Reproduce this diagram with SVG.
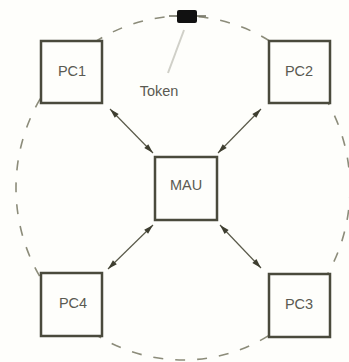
<svg xmlns="http://www.w3.org/2000/svg" width="349" height="362" viewBox="0 0 349 362">
<style>
.box{fill:#fefefb;stroke:#4a4a3c;stroke-width:2.5}
.lbl{font-family:"Liberation Sans",Arial,sans-serif;font-size:14.5px;fill:#5a5a52;text-anchor:middle}
.ring{fill:none;stroke:#8c8c7a;stroke-width:1.6;stroke-dasharray:10 12}
.link{stroke:#5a5a4a;stroke-width:1.2;marker-start:url(#ah);marker-end:url(#ah)}
</style>
<defs>
<marker id="ah" viewBox="0 0 12 10" refX="12" refY="5" markerWidth="11" markerHeight="8" markerUnits="userSpaceOnUse" orient="auto-start-reverse">
<path d="M0,1.5 L12,5 L0,8.5 Z" fill="#3e3e30"/>
</marker>
</defs>
<rect width="349" height="362" fill="#fefefb"/>
<g id="ring">
<ellipse class="ring" cx="183" cy="188" rx="167" ry="172"/>
</g>
<g id="token">
<line x1="184" y1="30" x2="168" y2="73" stroke="#d0d0c8" stroke-width="2"/>
<line x1="169" y1="16" x2="206" y2="16" stroke="#6a6a5a" stroke-width="1.6"/>
<rect x="177" y="10" width="20" height="13" rx="2" fill="#111"/>
<text class="lbl" x="159" y="96" fill="#333">Token</text>
</g>
<g id="connectors">
<line class="link" x1="110" y1="109" x2="153" y2="153"/>
<line class="link" x1="261" y1="109" x2="218" y2="153"/>
<line class="link" x1="153" y1="225" x2="108" y2="269"/>
<line class="link" x1="220" y1="225" x2="261" y2="268"/>
</g>
<g id="PC1"><rect class="box" x="41" y="41" width="61" height="62"/><text class="lbl" x="72" y="76">PC1</text></g>
<g id="PC2"><rect class="box" x="269" y="41" width="61" height="62"/><text class="lbl" x="299" y="76">PC2</text></g>
<g id="MAU"><rect class="box" x="155" y="157" width="62" height="63"/><text class="lbl" x="186" y="190">MAU</text></g>
<g id="PC4"><rect class="box" x="41" y="273" width="61" height="63"/><text class="lbl" x="73" y="308">PC4</text></g>
<g id="PC3"><rect class="box" x="269" y="274" width="61" height="63"/><text class="lbl" x="299" y="309">PC3</text></g>
</svg>
